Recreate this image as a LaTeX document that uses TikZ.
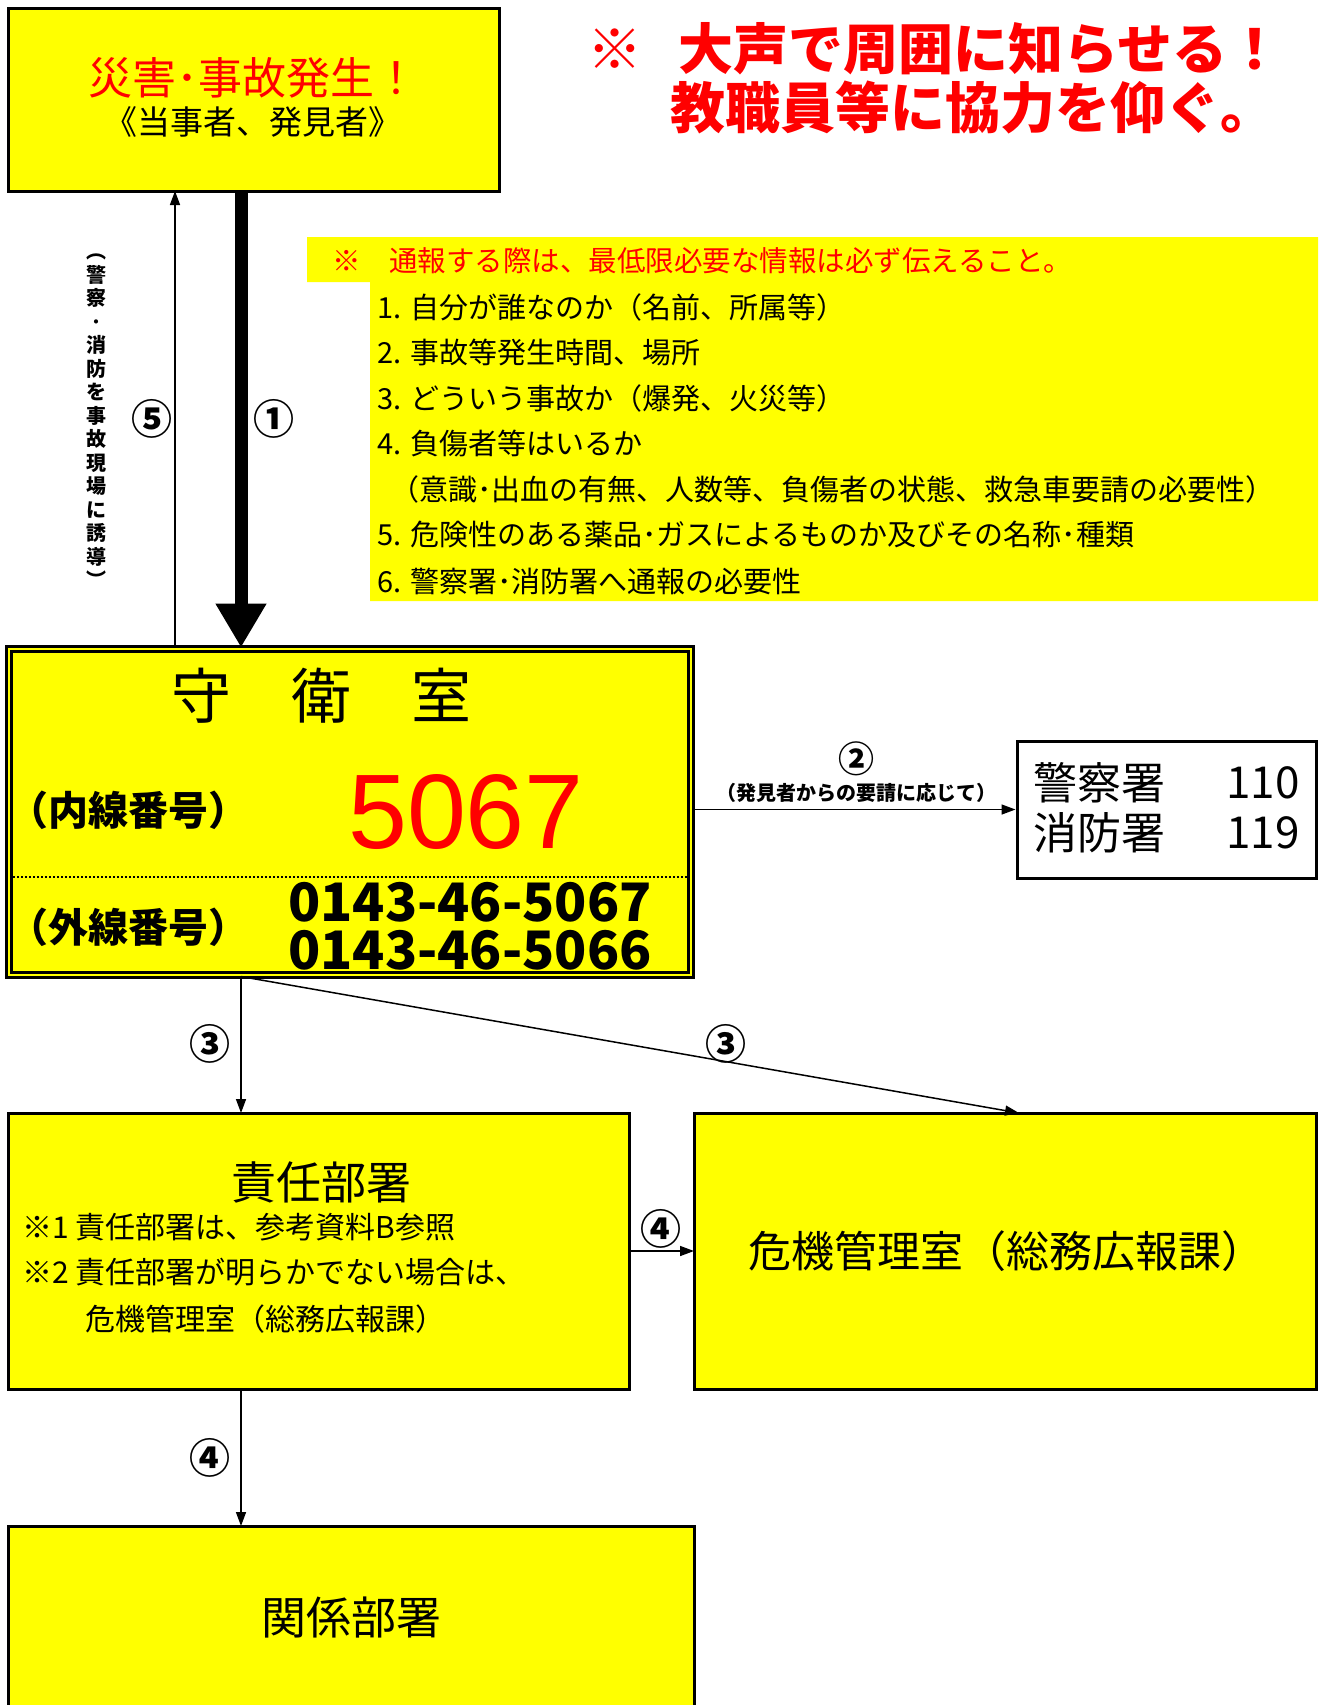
\documentclass[tikz,border=0pt]{standalone}
\usepackage{fontspec}
\setmainfont{Noto Sans CJK JP}
\newfontfamily\arialf{Liberation Sans}
\usetikzlibrary{arrows.meta}
\definecolor{yel}{RGB}{255,255,0}
\definecolor{rd}{RGB}{255,0,0}
\newcommand\fs[1]{\fontsize{#1}{#1}\selectfont}
\begin{document}
\begin{tikzpicture}[x=1pt,y=-1pt,
  box/.style={draw=black, line width=3pt, fill=yel, inner sep=0pt, outer sep=0pt},
  conn/.style={line width=1.5pt, -{Triangle[length=14pt,width=10pt]}},
  thick arrow/.style={line width=13pt, -{Triangle[length=44pt,width=48pt]}},
  lbl/.style={inner sep=0pt, font=\bfseries\fs{41}},
  item/.style={anchor=west, inner sep=0pt, font=\fs{29}},
  note/.style={anchor=west, inner sep=0pt, font=\fs{30}}
]
\useasboundingbox (0,0) rectangle (1318,1705);
\clip (0,0) rectangle (1318,1705);

% helper coordinates for connector x positions
\coordinate (cA) at (241,0);
\coordinate (cB) at (175,0);
\coordinate (cD) at (1019,0);

% top box
\node[box, minimum width=491pt, minimum height=183pt] (top) at (253.5,99.5) {};
\node[inner sep=0pt, text=rd, font=\fs{44}] (t1) at (253,78) {災害･事故発生！};
\node[inner sep=0pt, font=\fs{33}] (t2) at (253,122) {《当事者、発見者》};

% headline
\node[anchor=west, inner sep=0pt, text=rd, font=\bfseries\fs{55}] (h1) at (587,49) {※\hspace{36pt}大声で周囲に知らせる！};
\node[anchor=west, inner sep=0pt, text=rd, font=\bfseries\fs{55}] (h2) at (670,107) {教職員等に協力を仰ぐ。};

% notice
\fill[yel] (307,237) -- (1318,237) -- (1318,601) -- (370,601) -- (370,282) -- (307,282) -- cycle;
\node[anchor=west, inner sep=0pt, text=rd, font=\fs{28.5}] (n0) at (332,261) {※　通報する際は、最低限必要な情報は必ず伝えること。};
\node[item] (n1) at (377,307) {1. 自分が誰なのか（名前、所属等）};
\node[item] (n2) at (377,352) {2. 事故等発生時間、場所};
\node[item] (n3) at (377,398) {3. どういう事故か（爆発、火災等）};
\node[item] (n4) at (377,444) {4. 負傷者等はいるか};
\node[item] (n4b) at (390,489) {（意識･出血の有無、人数等、負傷者の状態、救急車要請の必要性）};
\node[item] (n5) at (377,535) {5. 危険性のある薬品･ガスによるものか及びその名称･種類};
\node[item] (n6) at (377,581) {6. 警察署･消防署へ通報の必要性};

% vertical text
\node[inner sep=0pt, align=center, font=\bfseries\fontsize{20}{23.5}\selectfont] (vt) at (96,421)
  {︵\\警\\察\\･\\消\\防\\を\\事\\故\\現\\場\\に\\誘\\導\\︶};

% guard room
\node[draw=black, line width=3pt, double=yel, double distance=2pt, fill=yel, inner sep=0pt,
      minimum width=682pt, minimum height=326pt] (guard) at (350,812) {};
\node[inner sep=0pt, font=\fs{60}] (g1) at (321,696) {守　衛　室};
\node[anchor=west, inner sep=0pt, font=\bfseries\fs{40}] (g2) at (8,810) {（内線番号）};
\node[inner sep=0pt, text=rd, font=\arialf\fs{106}] (g3) at (466,812) {5067};
\coordinate (dl1) at (13,877);
\coordinate (dl2) at (687,877);
\draw[line width=2pt, dotted] (dl1) -- (dl2);
\node[anchor=west, inner sep=0pt, font=\bfseries\fs{40}] (g4) at (8,927) {（外線番号）};
\node[anchor=west, inner sep=0pt, font=\bfseries\fs{53}] (g5) at (288,902) {0143-46-5067};
\node[anchor=west, inner sep=0pt, font=\bfseries\fs{53}] (g6) at (288,950) {0143-46-5066};

% police / fire
\node[draw=black, line width=3pt, fill=white, inner sep=0pt, minimum width=299pt, minimum height=137pt] (police) at (1166.5,809.5) {};
\node[anchor=west, inner sep=0pt, font=\fs{44}] (p1) at (1033,783) {警察署};
\node[anchor=east, inner sep=0pt, font=\fs{44}] (p2) at (1300,783) {110};
\node[anchor=west, inner sep=0pt, font=\fs{44}] (p3) at (1033,833) {消防署};
\node[anchor=east, inner sep=0pt, font=\fs{44}] (p4) at (1300,833) {119};

% lower boxes
\node[box, minimum width=621pt, minimum height=276pt] (resp) at (318.5,1251) {};
\node[inner sep=0pt, font=\fs{45}] (r1) at (321,1182) {責任部署};
\node[note] (r2) at (22,1227) {※1 責任部署は、参考資料B参照};
\node[note] (r3) at (22,1272) {※2 責任部署が明らかでない場合は、};
\node[note] (r4) at (85,1319) {危機管理室（総務広報課）};

\node[box, minimum width=622pt, minimum height=276pt] (crisis) at (1005,1251) {};
\node[inner sep=0pt, font=\fs{43}] (k1) at (1006,1251) {危機管理室（総務広報課）};

\node[box, minimum width=686pt, minimum height=200pt] (rel) at (351,1626) {};
\node[inner sep=0pt, font=\fs{45}] (k2) at (351,1617) {関係部署};

% connectors
\draw[thick arrow] (top.south -| cA) -- (guard.north -| cA);
\draw[conn] (guard.north -| cB) -- (top.south -| cB);
\node[lbl] (L1) at (274,419) {①};
\node[lbl] (L5) at (152,419) {⑤};

\draw[conn] (guard.east |- police.west) -- (police.west);
\node[inner sep=0pt, font=\bfseries\fs{36}] (L2) at (856,759) {②};
\node[inner sep=0pt, font=\bfseries\fs{20}] (L2b) at (856,793) {（発見者からの要請に応じて）};

\draw[conn] (guard.south -| cA) -- (resp.north -| cA);
\draw[conn] (guard.south -| cA) -- (crisis.north -| cD);
\node[lbl] (L3a) at (210,1044) {③};
\node[lbl] (L3b) at (726,1044) {③};

\draw[conn] (resp.east) -- (crisis.west);
\node[lbl] (L4a) at (661,1229) {④};
\draw[conn] (resp.south -| cA) -- (rel.north -| cA);
\node[lbl] (L4b) at (210,1458) {④};
\end{tikzpicture}
\end{document}
